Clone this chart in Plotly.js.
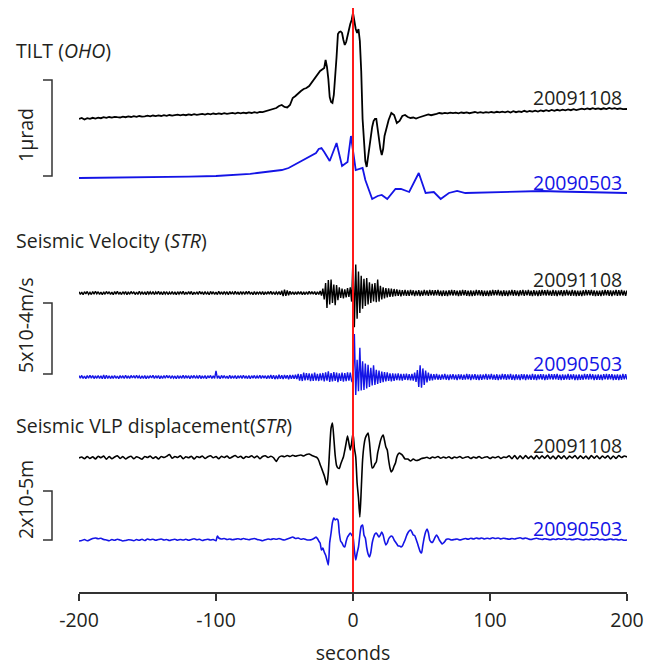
<!DOCTYPE html>
<html><head><meta charset="utf-8">
<script src="https://cdn.plot.ly/plotly-3.0.1.min.js"></script>
<style>html,body{margin:0;padding:0;background:#fff}#chart{width:646px;height:666px}</style>
</head><body><div id="chart"></div>
<script>
// ---------- DATA ----------
// Tilt at OHO, event 20091108: [seconds, nrad]
const tiltBlack = [[-200,0],[-198,10],[-196,-5],[-194,8],[-192,2],[-190,12],[-188,5],[-186,14],[-184,8],[-182,18],
[-180,12],[-178,20],[-176,14],[-174,22],[-172,18],[-170,15],[-168,24],[-166,18],[-164,26],[-162,20],
[-160,28],[-158,22],[-156,30],[-154,24],[-152,27],[-150,33],[-148,26],[-146,35],[-144,29],[-142,36],
[-140,30],[-138,38],[-136,32],[-134,40],[-132,34],[-130,38],[-128,43],[-126,36],[-124,44],[-122,38],
[-120,46],[-118,40],[-116,48],[-114,42],[-112,47],[-110,52],[-108,45],[-106,53],[-104,47],[-102,55],
[-100,49],[-98,56],[-96,50],[-94,58],[-92,52],[-90,57],[-88,62],[-86,55],[-84,63],[-82,57],
[-80,64],[-78,58],[-76,66],[-74,60],[-72,68],[-70,62],[-68,70],[-66,68],
[-64,75],[-62,85],[-60,92],[-58,100],[-56,110],[-54,130],[-52,140],[-50,120],[-48,115],[-46,140],
[-44,210],[-42,230],[-40,260],[-38,280],[-36,300],[-34,310],[-32,330],[-30,370],[-28,400],[-26,440],
[-24,480],[-22,500],[-21,510],[-20,590],[-19,520],[-18,400],[-17,220],[-16,170],[-15,160],[-14,240],
[-13,390],[-12,620],[-11,850],[-10,870],[-9,875],[-8,860],[-7,790],[-6,740],[-5,770],[-4,850],
[-3,890],[-2,950],[-1,990],[0,1060],[1,960],[2,900],[3,860],[4,900],[5,780],[6,480],
[7,0],[8,-250],[9,-420],[10,-480],[11,-380],[12,-280],[13,-160],[14,-80],[15,-20],[16,0],
[17,0],[18,-120],[19,-200],[20,-300],[21,-360],[22,-300],[23,-170],[24,-120],[26,-10],[28,60],
[30,40],[32,-40],[34,-20],[36,30],[38,40],[40,20],[42,10],[44,15],[46,5],[48,15],[50,25],[53,40],
[55,45],[57,38],[59,48],[61,52],[63,60],[65,55],[67,62],[69,56],[71,64],[73,58],[75,63],[77,57],
[79,65],[81,60],[83,66],[85,58],[87,64],[89,70],[91,62],[93,68],[95,61],[97,69],[99,63],[101,70],
[103,64],[105,72],[107,66],[109,73],[111,67],[113,75],[115,65],[117,78],[119,68],[121,76],[123,70],
[125,82],[127,72],[129,80],[131,74],[133,84],[135,75],[137,86],[139,78],[141,88],[143,80],[145,90],
[147,82],[149,92],[151,84],[153,94],[155,86],[157,95],[159,88],[161,98],[163,90],[165,100],[167,104],
[169,96],[171,106],[173,98],[175,108],[177,100],[179,106],[181,98],[183,107],[185,100],[187,110],
[189,102],[191,108],[193,100],[195,106],[197,98],[199,104],[200,100]];

// Tilt at OHO, event 20090503: [seconds, nrad]
const tiltBlue = [[-200,0],[-180,2],[-160,5],[-140,9],[-120,14],[-100,20],[-90,26],[-80,34],[-75,42],[-70,50],[-66,58],[-60,68],
[-52,80],[-47,100],[-43,130],[-39,160],[-33,200],[-27,250],[-25,290],[-23,300],[-21,260],[-17,170],
[-12,350],[-8,120],[-4,160],[-1.5,420],[2,80],[7,100],[9,-20],[14,-210],[18,-180],[21,-170],[25,-210],
[31,-110],[35,-110],[41,-140],[48,50],[53,-150],[59,-140],[64,-210],[70,-150],[76,-130],[82,-150],
[95,-145],[107,-140],[120,-135],[138,-130],[150,-135],[167,-140],[185,-145],[200,-150]];

// Seismic velocity at STR, 1 sample per second from -200 s to 200 s, in micrometres/s
const velStart = -200, velStep = 1;
const velBlack = [
8,-10,6,-12,9,-7,11,-9,5,-11,10,-8,12,-6,9,-10,7,-12,8,-9,
11,-7,9,-10,6,-12,10,-8,12,-9,7,-11,9,-6,10,-12,8,-9,11,-7,
9,-11,7,-10,12,-8,6,-10,9,-12,11,-7,8,-9,10,-11,7,-8,12,-10,
8,-12,10,-7,9,-11,6,-9,11,-10,8,-12,9,-7,10,-8,12,-11,7,-9,
10,-8,11,-12,7,-9,9,-10,12,-7,8,-11,10,-9,6,-12,11,-8,9,-10,
7,-11,12,-9,8,-10,10,-7,9,-12,11,-8,7,-10,12,-9,8,-11,10,-7,
9,-10,11,-8,12,-9,7,-12,10,-11,8,-7,9,-10,11,-12,8,-9,10,-8,
12,-10,9,-11,7,-8,10,-12,16,-22,24,-20,18,-16,12,-10,9,-11,8,-10,
11,-9,10,-12,8,-11,9,-10,12,-8,10,-9,11,-12,9,-10,14,-18,30,-45,
70,-105,90,-80,95,-70,60,-85,55,-50,40,-35,30,-38,25,-30,35,-28,40,-60,
245,-240,200,-180,150,-140,120,-110,100,-90,105,-80,75,-70,65,-60,70,-65,95,-60,
50,-45,40,-38,35,-30,32,-28,30,-25,28,-22,25,-20,22,-24,20,-18,22,-20,
18,-20,22,-16,19,-21,17,-18,20,-22,16,-19,21,-17,18,-20,22,-16,19,-18,
20,-17,22,-19,16,-21,18,-20,17,-22,19,-16,21,-18,20,-17,16,-22,18,-19,
21,-16,19,-20,17,-22,18,-21,16,-19,22,-17,20,-18,19,-21,17,-20,16,-22,
18,-19,21,-17,20,-16,22,-18,17,-21,19,-20,16,-22,18,-17,21,-19,20,-18,
17,-21,19,-16,22,-20,18,-17,21,-19,16,-22,20,-18,17,-21,19,-20,22,-16,
19,-18,21,-17,16,-20,22,-19,18,-21,17,-16,20,-22,19,-18,21,-17,16,-20,
22,-19,18,-21,17,-20,16,-22,19,-18,21,-17,20,-16,22,-19,18,-21,17,-20,
16,-22,19,-18,21,-17,20,-19,18,-21,17,-16,22,-20,19,-18,21,-17,16,-19,
18];
const velBlue = [
9,-8,11,-10,7,-12,10,-9,12,-8,10,-11,8,-9,11,-10,9,-12,14,-13,
12,-10,9,-11,8,-10,11,-9,7,-12,10,-8,9,-11,12,-9,8,-10,11,-7,
10,-9,12,-8,7,-11,9,-10,11,-12,8,-9,10,-7,12,-11,9,-8,10,-12,
8,-10,11,-9,12,-7,10,-11,9,-8,7,-12,11,-10,8,-9,12,-11,10,-8,
9,-12,10,-8,11,-9,7,-10,12,-11,8,-9,10,-12,9,-7,11,-10,8,-9,
42,-10,9,-12,11,-8,10,-9,7,-11,12,-10,8,-9,11,-12,9,-8,10,-11,
12,-9,8,-11,10,-12,9,-8,11,-10,7,-9,12,-11,10,-8,9,-12,11,-10,
14,-12,13,-15,11,-14,16,-13,12,-15,14,-11,13,-16,15,-12,14,-13,16,-15,
22,-26,20,-28,30,-24,27,-22,25,-29,24,-27,30,-25,22,-28,26,-24,28,-30,
32,-26,40,-35,28,-30,34,-27,31,-36,25,-28,30,-33,27,-29,32,-26,30,-28,
-40,300,-125,120,-100,205,-95,110,-90,95,-80,85,-70,65,-60,82,-55,50,-48,45,
-42,38,-36,34,-30,32,-28,26,-30,25,-27,24,-22,26,-23,21,-25,22,-20,24,
-22,20,-24,21,-26,30,-35,48,-70,82,-75,60,-55,45,-38,30,-26,22,-24,20,
-18,21,-19,16,-20,18,-17,22,-19,16,-21,18,-16,20,-18,17,-22,19,-16,18,
-20,17,-18,21,-16,19,-22,18,-17,20,-19,16,-21,18,-20,17,-16,22,-19,18,
-17,21,-18,16,-20,19,-22,17,-18,21,-16,20,-19,18,-17,22,-20,16,-21,19,
-18,17,-22,20,-16,19,-21,18,-17,16,-20,22,-19,18,-21,17,-16,20,-18,19,
-22,16,-19,21,-17,20,-18,19,-16,22,-20,17,-21,18,-19,16,-17,21,-20,18,
-16,19,-21,17,-22,18,-20,16,-19,21,-17,20,-18,22,-16,19,-21,17,-20,18,
-19,16,-22,20,-17,21,-18,19,-16,20,-21,17,-19,18,-22,16,-20,21,-17,19,
-18];

// Seismic VLP displacement at STR: [seconds, micrometres]
const vlpBlack = [[-200,0],[-198,0.4],[-196,-0.3],[-194,0.6],[-192,-0.2],[-190,0.5],[-188,-0.4],[-186,0.7],[-184,0.1],[-182,0.8],
[-180,-0.5],[-178,0.6],[-176,-0.3],[-174,0.4],[-172,0.9],[-170,-0.2],[-168,0.6],[-166,-0.4],[-164,0.3],[-162,0.7],
[-160,-0.3],[-158,0.5],[-156,0.1],[-154,-0.5],[-152,0.6],[-150,0.2],[-148,0.8],[-146,-0.2],[-144,0.5],[-142,-0.4],
[-140,0.6],[-138,0.2],[-136,0.7],[-134,1.4],[-132,-0.1],[-130,0.6],[-128,0.2],[-126,0.9],[-124,-0.3],[-122,0.5],
[-120,0.1],[-118,0.7],[-116,-0.4],[-114,0.6],[-112,0.2],[-110,0.8],[-108,-0.2],[-106,0.5],[-104,0.9],[-102,0.1],
[-100,0.6],[-98,-0.3],[-96,0.7],[-94,0.2],[-92,0.8],[-90,-0.1],[-88,0.5],[-86,1.0],[-84,0.2],[-82,0.7],
[-80,-0.2],[-78,0.6],[-76,0.3],[-74,0.9],[-72,0.1],[-70,0.8],[-68,-0.3],[-66,0.6],[-64,0.9],[-62,0.2],
[-60,0.7],[-58,0.1],[-56,-1.4],[-54,0.3],[-52,0.8],[-50,0.5],[-48,1.0],[-46,0.6],[-44,1.1],[-42,0.7],
[-40,1.0],[-38,1.2],[-36,0.8],[-34,1.4],[-32,1.6],[-30,1.0],
[-28,0.6],[-27,0.4],[-26,0],[-25,-1.0],[-24,-2.6],[-23,-4.0],[-22,-5.5],[-21,-7.0],[-20,-9.0],[-19,-10.8],
[-18,-5.6],[-17,4.0],[-16,12.0],[-15,14.0],[-14,8.0],[-13,1.0],[-12,-3.0],[-11,-4.0],[-10,-4.2],[-9,-2.5],
[-8,-1.0],[-7,0.4],[-6,3.0],[-5,6.0],[-4,8.8],[-3,6.0],[-2,3.2],[-1,6.0],[0,10.0],[1,4.0],
[2,0.4],[3,-10.0],[4,-16.0],[5,-23.6],[6,-12.8],[7,-0.8],[8,5.0],[9,8.0],[10,9.2],[11,10.0],
[12,6.4],[13,0],[14,-4.0],[15,-3.6],[16,-2.4],[17,-1.6],[18,2.0],[19,4.4],[20,6.8],[21,8.4],
[22,9.2],[23,7.0],[24,4.4],[25,3.2],[26,-0.8],[27,-4.0],[28,-5.6],[29,-4.8],[30,-3.2],[31,-2.0],
[32,0.4],[33,1.6],[34,2.0],[35,1.6],[36,1.2],[38,-0.4],[40,-0.4],[42,-1.2],[44,-0.4],[46,-1.0],[48,-0.8],[50,-0.2],
[52,0.0],[54,0.3],[56,-0.2],[58,0.4],[60,0.1],[62,0.6],[64,-0.1],[66,0.4],[68,0.0],[70,0.5],
[72,-0.2],[74,0.4],[76,0.1],[78,0.6],[80,-0.1],[82,0.3],[84,0.5],[86,-0.2],[88,0.4],[90,0.0],
[92,0.6],[94,-0.1],[96,0.3],[98,0.5],[100,-0.2],[102,0.4],[104,0.1],[106,0.6],[108,-0.2],[110,0.4],
[112,0.2],[114,0.9],[116,-0.3],[118,1.0],[120,-0.4],[122,0.9],[124,-0.3],[126,1.0],[128,-0.2],[130,0.8],
[132,-0.4],[134,1.0],[136,-0.3],[138,0.9],[140,-0.1],[142,1.1],[144,-0.3],[146,0.8],[148,-0.4],[150,1.0],
[152,-0.2],[154,0.9],[156,-0.4],[158,0.8],[160,0.0],[162,1.0],[164,-0.3],[166,0.9],[168,-0.2],[170,0.8],
[172,-0.4],[174,1.0],[176,-0.1],[178,0.9],[180,-0.3],[182,0.8],[184,0.0],[186,0.9],[188,-0.4],[190,0.8],
[192,-0.2],[194,1.0],[196,0.2],[198,0.8],[200,0.4]];

const vlpBlue = [[-200,-0.4],[-198,-0.2],[-196,0.2],[-194,-0.3],[-192,0.1],[-190,0.6],[-188,0.8],[-186,0.5],[-184,0.7],[-182,0.2],
[-180,0.0],[-178,-0.3],[-176,0.2],[-174,-0.1],[-172,0.3],[-170,0.0],[-168,-0.4],[-166,-0.2],[-164,0.1],[-162,0.0],
[-160,-0.3],[-158,0.2],[-156,-0.1],[-154,0.3],[-152,-0.2],[-150,0.4],[-148,0.1],[-146,0.3],[-144,-0.1],[-142,0.2],
[-140,0.4],[-138,0.0],[-136,0.2],[-134,-0.2],[-132,0.1],[-130,0.3],[-128,-0.1],[-126,0.2],[-124,0.0],[-122,0.3],
[-120,-0.1],[-118,0.2],[-116,0.5],[-114,0.1],[-112,0.3],[-110,-0.2],[-108,0.1],[-106,0.3],[-104,0.0],[-102,0.2],
[-100,-0.3],[-99,1.6],[-98,0.8],
[-96,0.4],[-94,0.6],[-92,0.2],[-90,0.4],[-88,0.1],[-86,0.3],[-84,0.5],[-82,0.2],[-80,0.6],[-78,0.3],
[-76,0.1],[-74,0.4],[-72,0.6],[-70,0.2],[-68,0.0],[-66,-0.3],[-64,0.1],[-62,0.4],[-60,0.2],[-58,0.5],
[-56,0.3],[-54,0.6],[-52,0.2],[-50,0.0],[-48,0.4],[-46,0.8],[-44,1.2],[-42,0.6],[-40,0.8],[-38,0.3],
[-36,0.5],[-34,0.1],[-32,0.0],[-30,0.2],
[-28,0.8],[-27,1.2],[-26,0.6],[-25,-0.4],[-24,-1.2],[-23,-4.0],[-22,-3.2],[-21,-4.8],[-20,-6.0],[-19,-8.0],
[-18,-10.0],[-17,-1.0],[-16,2.8],[-15,7.0],[-14,8.8],[-13,8.0],[-12,8.4],[-11,8.0],[-10,2.8],[-9,-0.5],
[-8,-1.2],[-7,-2.4],[-6,-2.8],[-5,-0.5],[-4,1.2],[-3,2.0],[-2,2.8],[-1,2.0],[0,1.2],[1,-4.0],
[2,-8.0],[3,-5.2],[4,-2.8],[5,2.0],[6,5.5],[7,6.0],[8,2.0],[9,0.8],[10,-3.0],[11,-5.6],
[12,-6.8],[13,-5.0],[14,-1.2],[15,1.0],[16,2.4],[17,2.8],[18,2.0],[19,1.2],[20,2.0],[21,3.2],
[22,2.0],[23,-0.4],[24,-2.0],[25,-1.2],[26,0.4],[27,1.2],[28,1.6],[29,1.2],[30,0.0],[31,-0.8],
[32,-1.6],[33,-2.4],[34,-2.4],[35,-2.8],[36,-2.4],[37,-1.2],[38,0.0],[39,1.6],[40,2.8],[41,3.6],
[42,4.0],[43,3.2],[44,2.0],[45,1.8],[46,0.4],[47,-1.2],[48,-3.0],[49,-4.6],[50,-5.2],[51,-2.0],
[52,1.0],[53,3.2],[54,4.4],[55,3.0],[56,0.0],[57,-0.8],[58,-1.0],[59,0.0],[60,1.2],[61,2.0],
[62,1.2],[63,0.0],[64,-0.8],[65,-1.6],[66,-1.2],[67,-0.6],[68,0.2],[69,0.4],[70,0.4],
[72,0.0],[74,0.2],[76,0.4],[78,0.0],[80,0.3],[82,0.6],[84,0.3],[86,0.7],[88,0.4],[90,0.8],
[92,0.5],[94,0.8],[96,0.4],[98,0.7],[100,0.5],[102,0.9],[104,0.6],[106,0.8],[108,0.4],[110,0.7],
[112,0.5],[114,0.3],[116,0.6],[118,0.4],[120,0.7],[122,0.9],[124,0.5],[126,0.8],[128,0.4],[130,0.2],
[132,0.5],[134,0.7],[136,0.4],[138,0.2],[140,0.5],[142,0.3],[144,0.1],[146,0.4],[148,0.2],[150,0.5],
[152,0.3],[154,0.6],[156,0.2],[158,0.4],[160,0.1],[162,0.3],[164,0.5],[166,0.2],[168,0.0],[170,0.3],
[172,0.1],[174,0.4],[176,0.2],[178,0.5],[180,0.1],[182,0.3],[184,0.0],[186,0.2],[188,0.4],[190,0.1],
[192,0.3],[194,0.0],[196,0.2],[198,-0.1],[200,0.0]];

const eventLabels = ['20091108', '20090503'];
const panelTitles = ['TILT (<i>OHO</i>)', 'Seismic Velocity (<i>STR</i>)', 'Seismic VLP displacement(<i>STR</i>)'];
const scaleLabels = ['1µrad', '5x10-4m/s', '2x10-5m'];
const xTickVals = [-200, -100, 0, 100, 200];
const xTickText = ['-200', '-100', '0', '100', '200'];

// ---------- LAYOUT / STYLE ----------
const W = 646, H = 666, ML = 79, MR = 19, MT = 0, MB = 74;
const PW = W - ML - MR;             // plot width in px
const PH = H - MT - MB;             // plot height in px (y axis in px units)
const BLACK = '#000000', BLUE = '#1414e6', TEXT = '#231f20', RED = '#ff1a1a';
const FS = 19.5;
const px2paper = p => (p - ML) / PW;

// per-panel placement: baseline pixel rows and gains (px per unit)
const P = {
  tilt: {gain: 0.1, base: [119, 178], title: 50, labels: [97, 182], bar: [80, 176], barLabel: 135},
  vel:  {gain: 1/7, base: [293, 377], title: 240, labels: [279, 363], bar: [303, 374], barLabel: 325},
  vlp:  {gain: 2.5, base: [458, 540], title: 425, labels: [445, 528], bar: [491, 540], barLabel: 500}
};

function pairTrace(pairs, base, gain, color, width, smooth) {
  return {
    x: pairs.map(p => p[0]), y: pairs.map(p => base - gain * p[1]),
    type: 'scatter', mode: 'lines', hoverinfo: 'skip',
    line: {color: color, width: width, shape: smooth ? 'spline' : 'linear', smoothing: 0.6}
  };
}
function seqTrace(vals, base, gain, color, width) {
  return {
    x: vals.map((v, i) => velStart + i * velStep), y: vals.map(v => base - gain * v),
    type: 'scatter', mode: 'lines', hoverinfo: 'skip',
    line: {color: color, width: width}
  };
}

const traces = [
  pairTrace(tiltBlack, P.tilt.base[0], P.tilt.gain, BLACK, 1.8, false),
  pairTrace(tiltBlue, P.tilt.base[1], P.tilt.gain, BLUE, 1.8, false),
  seqTrace(velBlack, P.vel.base[0], P.vel.gain, BLACK, 1.4),
  seqTrace(velBlue, P.vel.base[1], P.vel.gain, BLUE, 1.4),
  pairTrace(vlpBlack, P.vlp.base[0], P.vlp.gain, BLACK, 1.6, true),
  pairTrace(vlpBlue, P.vlp.base[1], P.vlp.gain, BLUE, 1.6, true)
];

const shapes = [];
const annotations = [];
const xBarIn = px2paper(52), xBarOut = px2paper(43);
[P.tilt, P.vel, P.vlp].forEach((p, k) => {
  shapes.push({type: 'path', xref: 'paper', yref: 'y',
    path: `M ${xBarOut},${p.bar[0]} L ${xBarIn},${p.bar[0]} L ${xBarIn},${p.bar[1]} L ${xBarOut},${p.bar[1]}`,
    line: {color: '#333', width: 1.5}});
  annotations.push({xref: 'paper', yref: 'y', x: px2paper(14), y: p.title, xanchor: 'left', yanchor: 'middle',
    text: panelTitles[k], showarrow: false, font: {size: FS, color: TEXT}});
  annotations.push({xref: 'paper', yref: 'y', x: px2paper(25), y: p.barLabel, xanchor: 'center', yanchor: 'middle',
    text: scaleLabels[k], textangle: -90, showarrow: false, font: {size: FS, color: TEXT}});
  annotations.push({xref: 'paper', yref: 'y', x: px2paper(624), y: p.labels[0], xanchor: 'right', yanchor: 'middle',
    text: eventLabels[0], showarrow: false, font: {size: FS, color: TEXT}});
  annotations.push({xref: 'paper', yref: 'y', x: px2paper(624), y: p.labels[1], xanchor: 'right', yanchor: 'middle',
    text: eventLabels[1], showarrow: false, font: {size: FS, color: BLUE}});
});
shapes.push({type: 'line', xref: 'x', yref: 'y', x0: 0, x1: 0, y0: 8, y1: PH,
  line: {color: RED, width: 2}, layer: 'above'});

const layout = {
  width: W, height: H, margin: {l: ML, r: MR, t: MT, b: MB},
  paper_bgcolor: '#ffffff', plot_bgcolor: '#ffffff', showlegend: false,
  font: {family: '"Open Sans", "Noto Sans", sans-serif', size: FS, color: TEXT},
  xaxis: {range: [-200, 200], tickmode: 'array', tickvals: xTickVals, ticktext: xTickText,
    ticks: 'outside', ticklen: 7, tickwidth: 1.5, tickcolor: '#333', ticklabelstandoff: 3,
    showline: true, linecolor: '#333', linewidth: 1.5, showgrid: false, zeroline: false,
    tickfont: {size: FS, color: TEXT},
    title: {text: 'seconds', standoff: 20, font: {size: FS, color: TEXT}}, fixedrange: true},
  yaxis: {range: [PH, 0], visible: false, fixedrange: true},
  shapes: shapes, annotations: annotations
};

Plotly.newPlot('chart', traces, layout, {staticPlot: true, displayModeBar: false});
</script></body></html>
